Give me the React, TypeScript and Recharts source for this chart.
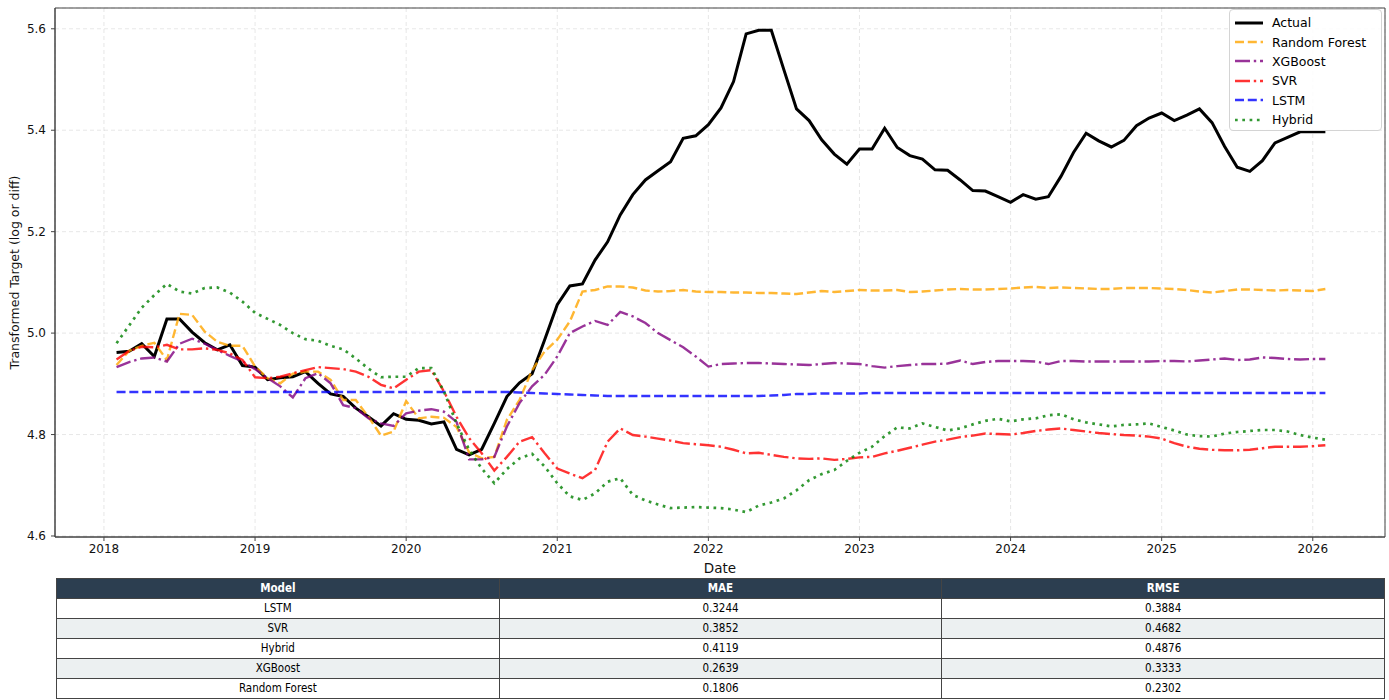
import {
  LineChart,
  Line,
  XAxis,
  YAxis,
  CartesianGrid,
  ReferenceArea,
} from "recharts";

// monthly series, Jan 2018 .. Jan 2026 (one row per year)
const actual = [
  4.962, 4.964, 4.979, 4.954, 5.028, 5.028, 5.002, 4.981, 4.967, 4.977, 4.936, 4.933,
  4.908, 4.912, 4.914, 4.924, 4.901, 4.88, 4.875, 4.852, 4.835, 4.817, 4.841, 4.83,
  4.828, 4.821, 4.825, 4.771, 4.76, 4.771, 4.822, 4.875, 4.902, 4.92, 4.987, 5.056,
  5.093, 5.097, 5.144, 5.18, 5.233, 5.273, 5.302, 5.32, 5.338, 5.384, 5.389, 5.411,
  5.444, 5.496, 5.59, 5.597, 5.597, 5.519, 5.442, 5.419, 5.381, 5.353, 5.333, 5.363,
  5.363, 5.404, 5.366, 5.35, 5.343, 5.322, 5.321, 5.302, 5.281, 5.28, 5.269, 5.258,
  5.273, 5.264, 5.269, 5.309, 5.356, 5.394, 5.379, 5.367, 5.38, 5.409, 5.424, 5.434,
  5.419, 5.43, 5.442, 5.415, 5.368, 5.327, 5.319, 5.34, 5.375, 5.386, 5.397, 5.397,
  5.397,
];

const randomForest = [
  4.937, 4.965, 4.975, 4.981, 4.947, 5.038, 5.036, 5.003, 4.983, 4.975, 4.975, 4.934,
  4.911, 4.901, 4.92, 4.924, 4.924, 4.908, 4.868, 4.868, 4.835, 4.798, 4.806, 4.866,
  4.832, 4.835, 4.833, 4.815, 4.765, 4.753, 4.756, 4.829, 4.868, 4.927, 4.964, 4.987,
  5.023, 5.082, 5.085, 5.092, 5.092, 5.09, 5.084, 5.082, 5.083, 5.085, 5.082, 5.081,
  5.081, 5.08, 5.08, 5.079, 5.079, 5.078, 5.077, 5.08, 5.083, 5.081, 5.083, 5.085,
  5.084, 5.084, 5.085, 5.081, 5.082, 5.084, 5.086, 5.087, 5.086, 5.086, 5.087, 5.088,
  5.09, 5.091, 5.089, 5.09, 5.089, 5.088, 5.087, 5.087, 5.089, 5.089, 5.089, 5.088,
  5.087, 5.085, 5.082, 5.08, 5.083, 5.086, 5.086, 5.085, 5.084, 5.085, 5.084, 5.083,
  5.087,
];

const xgboost = [
  4.933, 4.943, 4.95, 4.952, 4.944, 4.979, 4.989, 4.979, 4.967, 4.955, 4.944, 4.929,
  4.911, 4.895, 4.873, 4.911, 4.921, 4.901, 4.858, 4.852, 4.832, 4.822, 4.817, 4.842,
  4.847, 4.85, 4.845, 4.825, 4.751, 4.751, 4.756, 4.816, 4.862, 4.895, 4.918, 4.954,
  5.0, 5.013, 5.024, 5.016, 5.042, 5.033, 5.02, 5.0, 4.986, 4.972, 4.954, 4.934,
  4.939, 4.94, 4.941, 4.941, 4.94, 4.939, 4.938, 4.937, 4.939, 4.941, 4.94, 4.939,
  4.935, 4.932, 4.935, 4.937, 4.939, 4.939, 4.94, 4.946, 4.939, 4.943, 4.945, 4.945,
  4.945, 4.944, 4.939, 4.945, 4.945, 4.944, 4.944, 4.944, 4.944, 4.944, 4.944, 4.945,
  4.945, 4.944, 4.946, 4.948, 4.95, 4.947, 4.948, 4.952, 4.951, 4.949, 4.948, 4.949,
  4.949,
];

const svr = [
  4.948, 4.965, 4.973, 4.972, 4.977, 4.968, 4.968, 4.97, 4.967, 4.96, 4.947, 4.913,
  4.911, 4.914, 4.921, 4.927, 4.933, 4.931, 4.929, 4.924, 4.914, 4.898, 4.891, 4.908,
  4.924, 4.927, 4.885, 4.835, 4.793, 4.763, 4.729, 4.756, 4.786, 4.795, 4.763, 4.733,
  4.723, 4.714, 4.73, 4.786, 4.812, 4.799, 4.796, 4.792, 4.788, 4.783, 4.781, 4.779,
  4.776, 4.77, 4.763, 4.764, 4.76, 4.756, 4.753, 4.752, 4.753, 4.75, 4.752, 4.755,
  4.756, 4.763, 4.768, 4.774, 4.78, 4.786, 4.79, 4.795, 4.798, 4.802, 4.801, 4.8,
  4.803, 4.807, 4.81, 4.812, 4.809, 4.806, 4.803, 4.801, 4.799, 4.798, 4.796, 4.792,
  4.783, 4.776, 4.772, 4.77, 4.769, 4.769, 4.77, 4.773, 4.776, 4.776, 4.776, 4.777,
  4.779,
];

const lstm = [
  4.884, 4.884, 4.884, 4.884, 4.884, 4.884, 4.884, 4.884, 4.884, 4.884, 4.884, 4.884,
  4.884, 4.884, 4.884, 4.884, 4.884, 4.884, 4.884, 4.884, 4.884, 4.884, 4.884, 4.884,
  4.884, 4.884, 4.884, 4.884, 4.884, 4.884, 4.884, 4.884, 4.883, 4.882, 4.881, 4.88,
  4.879, 4.878, 4.877, 4.876, 4.876, 4.876, 4.876, 4.876, 4.876, 4.876, 4.876, 4.876,
  4.876, 4.876, 4.876, 4.876, 4.877, 4.878, 4.88, 4.88, 4.881, 4.881, 4.881, 4.881,
  4.882, 4.882, 4.882, 4.882, 4.882, 4.882, 4.882, 4.882, 4.882, 4.882, 4.882, 4.882,
  4.882, 4.882, 4.882, 4.882, 4.882, 4.882, 4.882, 4.882, 4.882, 4.882, 4.882, 4.882,
  4.882, 4.882, 4.882, 4.882, 4.882, 4.882, 4.882, 4.882, 4.882, 4.882, 4.882, 4.882,
  4.882,
];

const hybrid = [
  4.98, 5.015, 5.05, 5.075, 5.097, 5.082, 5.078, 5.089, 5.09, 5.08, 5.062, 5.04,
  5.028, 5.016, 5.0, 4.988, 4.985, 4.975, 4.968, 4.95, 4.93, 4.913, 4.914, 4.914,
  4.931, 4.931, 4.885, 4.822, 4.77, 4.733, 4.704, 4.732, 4.753, 4.762, 4.737, 4.704,
  4.678, 4.671, 4.684, 4.707, 4.714, 4.681, 4.67, 4.662, 4.655, 4.656, 4.657, 4.656,
  4.655, 4.652, 4.647, 4.66, 4.666, 4.674, 4.69, 4.71, 4.722, 4.73, 4.748, 4.764,
  4.776, 4.797, 4.814, 4.812, 4.822, 4.815, 4.808, 4.812, 4.82, 4.827, 4.831, 4.826,
  4.83, 4.832, 4.838, 4.84, 4.83, 4.824, 4.82, 4.816, 4.819, 4.82, 4.822, 4.815,
  4.808, 4.8, 4.797, 4.796, 4.802, 4.805, 4.807, 4.809, 4.809, 4.806, 4.799, 4.794,
  4.79,
];

const yearTicks = [2018, 2019, 2020, 2021, 2022, 2023, 2024, 2025, 2026];
const valueTicks = [4.6, 4.8, 5.0, 5.2, 5.4, 5.6];

// metrics table
const models = ["LSTM", "SVR", "Hybrid", "XGBoost", "Random Forest"];
const mae = ["0.3244", "0.3852", "0.4119", "0.2639", "0.1806"];
const rmse = ["0.3884", "0.4682", "0.4876", "0.3333", "0.2302"];

const X_DOMAIN: [number, number] = [2017.676, 2026.478];
const Y_DOMAIN: [number, number] = [4.598, 5.641];

// month-end dates as decimal years
const data = actual.map((v, i) => {
  const year = 2018 + Math.floor(i / 12);
  const month = (i % 12) + 1;
  return {
    date: `${year}-${String(month).padStart(2, "0")}`,
    t: year + month / 12,
    actual: v,
    rf: randomForest[i],
    xgb: xgboost[i],
    svr: svr[i],
    lstm: lstm[i],
    hybrid: hybrid[i],
  };
});

const series = [
  { key: "actual", name: "Actual", color: "#000000", width: 3, dash: undefined, opacity: 1 },
  { key: "rf", name: "Random Forest", color: "#FFA500", width: 2.4, dash: "9 3.8", opacity: 0.8 },
  { key: "xgb", name: "XGBoost", color: "#800080", width: 2.4, dash: "15 3.8 2.4 3.8", opacity: 0.8 },
  { key: "svr", name: "SVR", color: "#FF0000", width: 2.4, dash: "15 3.8 2.4 3.8", opacity: 0.8 },
  { key: "lstm", name: "LSTM", color: "#0000FF", width: 2.4, dash: "9 3.8", opacity: 0.8 },
  { key: "hybrid", name: "Hybrid", color: "#008000", width: 2.7, dash: "2.7 4.6", opacity: 0.8 },
];

const FONT = "'DejaVu Sans', Verdana, sans-serif";

function LegendBox() {
  return (
    <div
      style={{
        position: "absolute",
        left: 1229,
        top: 9,
        width: 153,
        height: 122,
        border: "1px solid #d4d4d4",
        borderRadius: 4,
        background: "rgba(255,255,255,0.85)",
        fontFamily: FONT,
        fontSize: 12.5,
        color: "#000",
        boxSizing: "border-box",
        paddingTop: 3,
      }}
    >
      {series.map((s) => (
        <div key={s.key} style={{ display: "flex", alignItems: "center", height: 19.4 }}>
          <svg width={28} height={10} style={{ marginLeft: 5, marginRight: 9 }}>
            <line
              x1={0}
              y1={5}
              x2={28}
              y2={5}
              stroke={s.color}
              strokeOpacity={s.opacity}
              strokeWidth={s.width}
              strokeDasharray={s.dash}
            />
          </svg>
          <span>{s.name}</span>
        </div>
      ))}
    </div>
  );
}

function MetricsTable() {
  const cell: React.CSSProperties = {
    border: "1px solid #444",
    textAlign: "center",
    padding: 0,
    height: 19,
    lineHeight: "19px",
  };
  return (
    <table
      style={{
        position: "absolute",
        left: 56,
        top: 578,
        width: 1329,
        borderCollapse: "collapse",
        tableLayout: "fixed",
        fontFamily: "'DejaVu Sans Condensed', 'DejaVu Sans', sans-serif",
        fontStretch: "condensed",
        fontSize: 11.5,
        color: "#000",
      }}
    >
      <thead>
        <tr style={{ background: "#2c3e50", color: "#fff", fontWeight: "bold" }}>
          <th style={cell}>Model</th>
          <th style={cell}>MAE</th>
          <th style={cell}>RMSE</th>
        </tr>
      </thead>
      <tbody>
        {models.map((m, i) => (
          <tr key={m} style={{ background: i % 2 === 1 ? "#ecf0f1" : "#ffffff" }}>
            <td style={cell}>{m}</td>
            <td style={cell}>{mae[i]}</td>
            <td style={cell}>{rmse[i]}</td>
          </tr>
        ))}
      </tbody>
    </table>
  );
}

function YLabel(props: any) {
  const vb = props.viewBox || { x: 0, y: 0, width: 0, height: 0 };
  const cx = vb.x + 14;
  const cy = vb.y + vb.height / 2;
  return (
    <text
      x={cx}
      y={cy}
      transform={`rotate(-90, ${cx}, ${cy})`}
      textAnchor="middle"
      dominantBaseline="central"
      fontSize={12.5}
      fill="#111"
      fontFamily={FONT}
    >
      Transformed Target (log or diff)
    </text>
  );
}

export default function App() {
  return (
    <div
      style={{
        position: "absolute",
        left: 0,
        top: 0,
        width: 1389,
        height: 700,
        background: "#fff",
        fontFamily: FONT,
      }}
    >
      <LineChart
        width={1389}
        height={578}
        data={data}
        margin={{ top: 8, right: 4, bottom: 0, left: 0 }}
      >
        <CartesianGrid
          stroke="#b0b0b0"
          strokeOpacity={0.3}
          strokeDasharray="4 3"
        />
        <XAxis
          dataKey="t"
          type="number"
          domain={X_DOMAIN}
          ticks={yearTicks}
          allowDataOverflow
          height={41}
          stroke="#444"
          tickSize={4}
          tickMargin={3}
          tick={{ fontSize: 12, fill: "#111", fontFamily: FONT }}
          label={{
            value: "Date",
            position: "insideBottom",
            offset: 5,
            fontSize: 13.5,
            fill: "#111",
            fontFamily: FONT,
          }}
        />
        <YAxis
          type="number"
          domain={Y_DOMAIN}
          ticks={valueTicks}
          allowDataOverflow
          width={55}
          stroke="#444"
          tickSize={4}
          tickMargin={5}
          tickFormatter={(v: number) => v.toFixed(1)}
          tick={{ fontSize: 12, fill: "#111", fontFamily: FONT }}
          label={<YLabel />}
        />
        <ReferenceArea
          x1={X_DOMAIN[0]}
          x2={X_DOMAIN[1]}
          y1={Y_DOMAIN[0]}
          y2={Y_DOMAIN[1]}
          fill="none"
          fillOpacity={0}
          stroke="#444"
          strokeWidth={1}
          ifOverflow="visible"
        />
        {series.map((s) => (
          <Line
            key={s.key}
            type="linear"
            dataKey={s.key}
            name={s.name}
            stroke={s.color}
            strokeOpacity={s.opacity}
            strokeWidth={s.width}
            strokeDasharray={s.dash}
            dot={false}
            activeDot={false}
            isAnimationActive={false}
          />
        ))}
      </LineChart>
      <LegendBox />
      <MetricsTable />
    </div>
  );
}
